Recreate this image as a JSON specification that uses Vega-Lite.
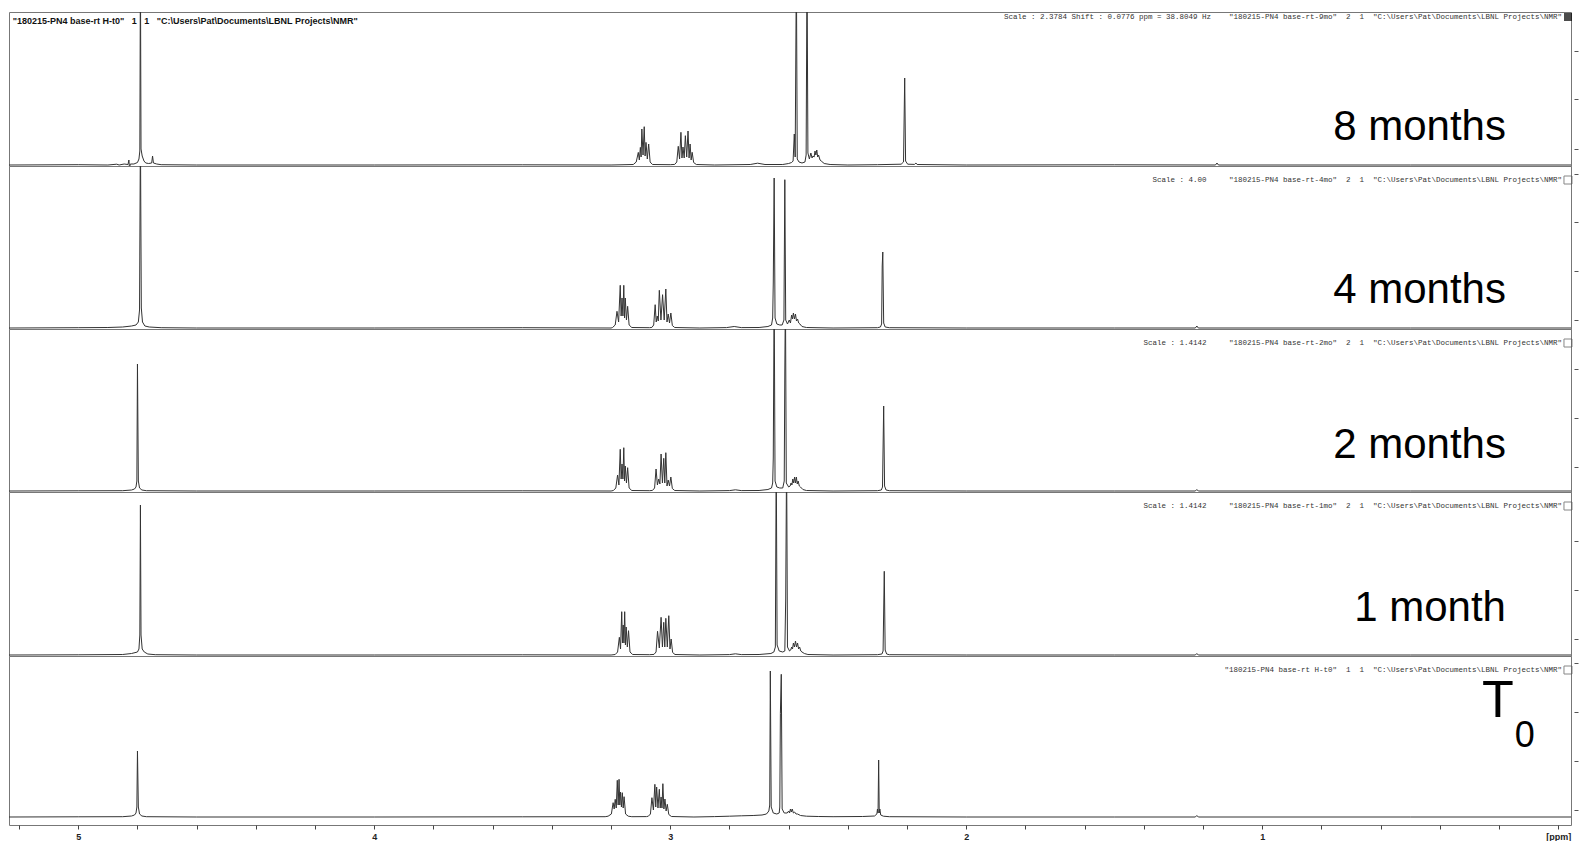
{
"$schema": "https://vega.github.io/schema/vega-lite/v6.json",
"background": "white",
"padding": {"left": 8, "top": 11, "right": 15, "bottom": 17},
"spacing": 0,
"bounds": "flush",
"config": {"view": {"stroke": "#777", "strokeWidth": 1}},
"datasets": {
"m8": [{"ppm":5.234,"intensity":0},{"ppm":5.0,"intensity":0.3},{"ppm":4.9,"intensity":0},{"ppm":4.87,"intensity":0.8},{"ppm":4.862,"intensity":0},{"ppm":4.845,"intensity":1},{"ppm":4.832,"intensity":0.5},{"ppm":4.829,"intensity":5},{"ppm":4.827,"intensity":-3},{"ppm":4.824,"intensity":1},{"ppm":4.812,"intensity":1},{"ppm":4.8,"intensity":2.5},{"ppm":4.795,"intensity":6},{"ppm":4.792,"intensity":14},{"ppm":4.79,"intensity":200},{"ppm":4.788,"intensity":16},{"ppm":4.784,"intensity":9},{"ppm":4.778,"intensity":4},{"ppm":4.772,"intensity":2},{"ppm":4.762,"intensity":1.5},{"ppm":4.752,"intensity":2},{"ppm":4.749,"intensity":9},{"ppm":4.746,"intensity":2},{"ppm":4.735,"intensity":1},{"ppm":4.72,"intensity":0.3},{"ppm":4.6,"intensity":0},{"ppm":4.0,"intensity":0},{"ppm":3.5,"intensity":0.2},{"ppm":3.2,"intensity":0},{"ppm":3.125,"intensity":0.5},{"ppm":3.115,"intensity":3},
{"ppm":3.108,"intensity":12.6},{"ppm":3.1045,"intensity":5},{"ppm":3.101,"intensity":17.6},{"ppm":3.0985,"intensity":8},{"ppm":3.096,"intensity":36},{"ppm":3.092,"intensity":10},{"ppm":3.088,"intensity":38.3},{"ppm":3.085,"intensity":9},{"ppm":3.082,"intensity":22.6},{"ppm":3.0775,"intensity":6},{"ppm":3.073,"intensity":21},{"ppm":3.068,"intensity":3},{"ppm":3.06,"intensity":0.5},
{"ppm":3.0,"intensity":0.3},{"ppm":2.985,"intensity":0.6},{"ppm":2.978,"intensity":3},
{"ppm":2.973,"intensity":18.7},{"ppm":2.9685,"intensity":6},{"ppm":2.964,"intensity":32.7},{"ppm":2.9605,"intensity":7},{"ppm":2.957,"intensity":18},{"ppm":2.953,"intensity":7},{"ppm":2.949,"intensity":29.3},{"ppm":2.9445,"intensity":8},{"ppm":2.94,"intensity":34},{"ppm":2.9365,"intensity":7},{"ppm":2.933,"intensity":21},{"ppm":2.9295,"intensity":5},{"ppm":2.926,"intensity":12.7},{"ppm":2.921,"intensity":2.5},{"ppm":2.912,"intensity":0.5},
{"ppm":2.85,"intensity":0},{"ppm":2.73,"intensity":0.5},{"ppm":2.705,"intensity":1.8},{"ppm":2.68,"intensity":0.5},{"ppm":2.62,"intensity":0.5},{"ppm":2.6,"intensity":1.5},{"ppm":2.59,"intensity":2.5},{"ppm":2.585,"intensity":4},{"ppm":2.581,"intensity":31},{"ppm":2.578,"intensity":8},{"ppm":2.574,"intensity":200},{"ppm":2.571,"intensity":6},{"ppm":2.565,"intensity":3},{"ppm":2.555,"intensity":2},{"ppm":2.545,"intensity":3},{"ppm":2.541,"intensity":10},{"ppm":2.538,"intensity":200},{"ppm":2.535,"intensity":12},{"ppm":2.53,"intensity":6},{"ppm":2.525,"intensity":12},{"ppm":2.521,"intensity":7},{"ppm":2.518,"intensity":9},{"ppm":2.514,"intensity":8},{"ppm":2.511,"intensity":14},{"ppm":2.508,"intensity":10},{"ppm":2.505,"intensity":15},{"ppm":2.502,"intensity":8},{"ppm":2.499,"intensity":10},{"ppm":2.494,"intensity":5},{"ppm":2.49,"intensity":4},{"ppm":2.48,"intensity":1.5},{"ppm":2.46,"intensity":0.5},{"ppm":2.4,"intensity":0},{"ppm":2.3,"intensity":0.3},{"ppm":2.22,"intensity":0.8},{"ppm":2.212,"intensity":3},{"ppm":2.208,"intensity":87},{"ppm":2.205,"intensity":4},{"ppm":2.198,"intensity":0.8},{"ppm":2.175,"intensity":0.6},{"ppm":2.17,"intensity":2},{"ppm":2.166,"intensity":0.5},{"ppm":2.0,"intensity":0},{"ppm":1.5,"intensity":0.2},{"ppm":1.158,"intensity":0},{"ppm":1.153,"intensity":2},{"ppm":1.148,"intensity":0},{"ppm":0.5,"intensity":0},{"ppm":-0.043,"intensity":0}],
"m4": [{"ppm":5.234,"intensity":0},{"ppm":5.0,"intensity":0.3},{"ppm":4.9,"intensity":0.5},{"ppm":4.85,"intensity":1},{"ppm":4.82,"intensity":2},{"ppm":4.805,"intensity":3},{"ppm":4.797,"intensity":6},{"ppm":4.793,"intensity":18},{"ppm":4.79,"intensity":200},{"ppm":4.787,"intensity":20},{"ppm":4.783,"intensity":6},{"ppm":4.775,"intensity":2},{"ppm":4.76,"intensity":1},{"ppm":4.72,"intensity":0.3},{"ppm":4.6,"intensity":0},{"ppm":4.0,"intensity":0},{"ppm":3.5,"intensity":0.3},{"ppm":3.2,"intensity":0},{"ppm":3.195,"intensity":0.5},{"ppm":3.186,"intensity":3},
{"ppm":3.18,"intensity":16.7},{"ppm":3.1745,"intensity":6},{"ppm":3.169,"intensity":42.7},{"ppm":3.166,"intensity":12},{"ppm":3.163,"intensity":30},{"ppm":3.16,"intensity":12},{"ppm":3.157,"intensity":42.7},{"ppm":3.1545,"intensity":10},{"ppm":3.152,"intensity":30},{"ppm":3.148,"intensity":8},{"ppm":3.144,"intensity":21.7},{"ppm":3.139,"intensity":3},{"ppm":3.13,"intensity":0.5},
{"ppm":3.07,"intensity":0.3},{"ppm":3.062,"intensity":0.6},{"ppm":3.056,"intensity":3},
{"ppm":3.051,"intensity":23.3},{"ppm":3.0475,"intensity":6},{"ppm":3.044,"intensity":12},{"ppm":3.0405,"intensity":7},{"ppm":3.037,"intensity":37.7},{"ppm":3.0315,"intensity":8},{"ppm":3.026,"intensity":33.3},{"ppm":3.0205,"intensity":8},{"ppm":3.015,"intensity":39},{"ppm":3.011,"intensity":6},{"ppm":3.007,"intensity":14},{"ppm":3.0025,"intensity":5},{"ppm":2.998,"intensity":15},{"ppm":2.993,"intensity":2.5},{"ppm":2.985,"intensity":0.5},
{"ppm":2.9,"intensity":0},{"ppm":2.81,"intensity":0.4},{"ppm":2.784,"intensity":1.5},{"ppm":2.76,"intensity":0.4},{"ppm":2.7,"intensity":0.5},{"ppm":2.67,"intensity":1.5},{"ppm":2.658,"intensity":3},{"ppm":2.654,"intensity":10},{"ppm":2.652,"intensity":45},{"ppm":2.649,"intensity":150},{"ppm":2.646,"intensity":10},{"ppm":2.64,"intensity":4},{"ppm":2.63,"intensity":3},{"ppm":2.622,"intensity":3},{"ppm":2.616,"intensity":8},{"ppm":2.613,"intensity":148.3},{"ppm":2.61,"intensity":8},{"ppm":2.604,"intensity":4},{"ppm":2.598,"intensity":8},{"ppm":2.594,"intensity":5},{"ppm":2.59,"intensity":13},{"ppm":2.587,"intensity":9},{"ppm":2.584,"intensity":15},{"ppm":2.5805,"intensity":9},{"ppm":2.577,"intensity":14},{"ppm":2.5735,"intensity":7},{"ppm":2.57,"intensity":9},{"ppm":2.566,"intensity":5},{"ppm":2.562,"intensity":4},{"ppm":2.555,"intensity":1.5},{"ppm":2.54,"intensity":0.5},{"ppm":2.45,"intensity":0},{"ppm":2.3,"intensity":0.3},{"ppm":2.29,"intensity":1},{"ppm":2.286,"intensity":4},{"ppm":2.284,"intensity":62},{"ppm":2.282,"intensity":76},{"ppm":2.279,"intensity":5},{"ppm":2.274,"intensity":1},{"ppm":2.26,"intensity":0.3},{"ppm":2.0,"intensity":0},{"ppm":1.5,"intensity":0},{"ppm":1.226,"intensity":0},{"ppm":1.221,"intensity":2},{"ppm":1.216,"intensity":0},{"ppm":0.5,"intensity":0},{"ppm":-0.043,"intensity":0}],
"m2": [{"ppm":5.234,"intensity":0},{"ppm":5.0,"intensity":0.2},{"ppm":4.85,"intensity":0.3},{"ppm":4.82,"intensity":1},{"ppm":4.81,"intensity":2},{"ppm":4.805,"intensity":4},{"ppm":4.802,"intensity":10},{"ppm":4.8,"intensity":127},{"ppm":4.797,"intensity":10},{"ppm":4.793,"intensity":3},{"ppm":4.785,"intensity":1},{"ppm":4.77,"intensity":0.3},{"ppm":4.6,"intensity":0},{"ppm":4.0,"intensity":0},{"ppm":3.5,"intensity":0.2},{"ppm":3.2,"intensity":0},{"ppm":3.192,"intensity":0.5},{"ppm":3.184,"intensity":3},
{"ppm":3.178,"intensity":16},{"ppm":3.1735,"intensity":6},{"ppm":3.169,"intensity":41.7},{"ppm":3.166,"intensity":12},{"ppm":3.163,"intensity":27},{"ppm":3.16,"intensity":12},{"ppm":3.157,"intensity":43.3},{"ppm":3.1545,"intensity":10},{"ppm":3.152,"intensity":25},{"ppm":3.148,"intensity":8},{"ppm":3.144,"intensity":23.3},{"ppm":3.139,"intensity":3},{"ppm":3.13,"intensity":0.5},
{"ppm":3.07,"intensity":0.3},{"ppm":3.06,"intensity":0.6},{"ppm":3.053,"intensity":3},
{"ppm":3.048,"intensity":22},{"ppm":3.0435,"intensity":6},{"ppm":3.039,"intensity":12},{"ppm":3.035,"intensity":7},{"ppm":3.031,"intensity":37},{"ppm":3.0265,"intensity":8},{"ppm":3.022,"intensity":32.7},{"ppm":3.0185,"intensity":8},{"ppm":3.015,"intensity":38.3},{"ppm":3.011,"intensity":5},{"ppm":3.007,"intensity":11},{"ppm":3.0025,"intensity":5},{"ppm":2.998,"intensity":14},{"ppm":2.993,"intensity":2.5},{"ppm":2.985,"intensity":0.5},
{"ppm":2.9,"intensity":0},{"ppm":2.8,"intensity":0.4},{"ppm":2.78,"intensity":1.2},{"ppm":2.76,"intensity":0.4},{"ppm":2.7,"intensity":0.5},{"ppm":2.67,"intensity":1.5},{"ppm":2.658,"intensity":3},{"ppm":2.654,"intensity":8},{"ppm":2.652,"intensity":33},{"ppm":2.649,"intensity":200},{"ppm":2.646,"intensity":10},{"ppm":2.64,"intensity":4},{"ppm":2.63,"intensity":3},{"ppm":2.62,"intensity":3},{"ppm":2.615,"intensity":10},{"ppm":2.613,"intensity":119},{"ppm":2.611,"intensity":200},{"ppm":2.608,"intensity":8},{"ppm":2.6,"intensity":4},{"ppm":2.595,"intensity":5},{"ppm":2.592,"intensity":8},{"ppm":2.589,"intensity":6},{"ppm":2.586,"intensity":12},{"ppm":2.583,"intensity":8},{"ppm":2.58,"intensity":14},{"ppm":2.577,"intensity":8},{"ppm":2.574,"intensity":14},{"ppm":2.571,"intensity":7},{"ppm":2.568,"intensity":10},{"ppm":2.564,"intensity":5},{"ppm":2.56,"intensity":4},{"ppm":2.552,"intensity":1.5},{"ppm":2.54,"intensity":0.5},{"ppm":2.45,"intensity":0},{"ppm":2.3,"intensity":0.3},{"ppm":2.287,"intensity":1},{"ppm":2.283,"intensity":4},{"ppm":2.279,"intensity":85},{"ppm":2.276,"intensity":5},{"ppm":2.271,"intensity":1},{"ppm":2.26,"intensity":0.3},{"ppm":2.0,"intensity":0},{"ppm":1.5,"intensity":0},{"ppm":1.226,"intensity":0},{"ppm":1.221,"intensity":1.5},{"ppm":1.216,"intensity":0},{"ppm":0.5,"intensity":0},{"ppm":-0.043,"intensity":0}],
"m1": [{"ppm":5.234,"intensity":0},{"ppm":5.0,"intensity":0.2},{"ppm":4.85,"intensity":0.5},{"ppm":4.82,"intensity":1.5},{"ppm":4.8,"intensity":3},{"ppm":4.795,"intensity":6},{"ppm":4.792,"intensity":20},{"ppm":4.79,"intensity":150},{"ppm":4.788,"intensity":20},{"ppm":4.784,"intensity":6},{"ppm":4.777,"intensity":3},{"ppm":4.765,"intensity":1},{"ppm":4.74,"intensity":0.3},{"ppm":4.6,"intensity":0},{"ppm":4.0,"intensity":0},{"ppm":3.5,"intensity":0.2},{"ppm":3.2,"intensity":0},{"ppm":3.186,"intensity":0.5},{"ppm":3.178,"intensity":3},
{"ppm":3.172,"intensity":17.7},{"ppm":3.168,"intensity":6},{"ppm":3.164,"intensity":43.3},{"ppm":3.1615,"intensity":12},{"ppm":3.159,"intensity":30},{"ppm":3.1565,"intensity":12},{"ppm":3.154,"intensity":43.3},{"ppm":3.1515,"intensity":10},{"ppm":3.149,"intensity":28},{"ppm":3.145,"intensity":8},{"ppm":3.141,"intensity":24.3},{"ppm":3.136,"intensity":3},{"ppm":3.127,"intensity":0.5},
{"ppm":3.07,"intensity":0.3},{"ppm":3.055,"intensity":0.6},{"ppm":3.048,"intensity":3},
{"ppm":3.043,"intensity":23.7},{"ppm":3.037,"intensity":7},{"ppm":3.031,"intensity":37.7},{"ppm":3.0265,"intensity":8},{"ppm":3.022,"intensity":32.7},{"ppm":3.0185,"intensity":8},{"ppm":3.015,"intensity":36.7},{"ppm":3.01,"intensity":8},{"ppm":3.005,"intensity":39.3},{"ppm":3.001,"intensity":6},{"ppm":2.997,"intensity":16},{"ppm":2.992,"intensity":2.5},{"ppm":2.984,"intensity":0.5},
{"ppm":2.9,"intensity":0},{"ppm":2.8,"intensity":0.4},{"ppm":2.78,"intensity":1.2},{"ppm":2.76,"intensity":0.4},{"ppm":2.7,"intensity":0.5},{"ppm":2.66,"intensity":1.5},{"ppm":2.65,"intensity":3},{"ppm":2.645,"intensity":8},{"ppm":2.642,"intensity":200},{"ppm":2.639,"intensity":10},{"ppm":2.632,"intensity":4},{"ppm":2.62,"intensity":3},{"ppm":2.613,"intensity":4},{"ppm":2.61,"intensity":56},{"ppm":2.607,"intensity":200},{"ppm":2.604,"intensity":8},{"ppm":2.597,"intensity":4},{"ppm":2.593,"intensity":5},{"ppm":2.59,"intensity":8},{"ppm":2.587,"intensity":6},{"ppm":2.584,"intensity":12},{"ppm":2.5805,"intensity":8},{"ppm":2.577,"intensity":14},{"ppm":2.5735,"intensity":8},{"ppm":2.57,"intensity":12},{"ppm":2.5665,"intensity":6},{"ppm":2.563,"intensity":8},{"ppm":2.559,"intensity":4},{"ppm":2.555,"intensity":3},{"ppm":2.547,"intensity":1.5},{"ppm":2.535,"intensity":0.5},{"ppm":2.45,"intensity":0},{"ppm":2.3,"intensity":0.3},{"ppm":2.285,"intensity":1},{"ppm":2.281,"intensity":4},{"ppm":2.277,"intensity":83.7},{"ppm":2.274,"intensity":5},{"ppm":2.269,"intensity":1},{"ppm":2.26,"intensity":0.3},{"ppm":2.0,"intensity":0},{"ppm":1.5,"intensity":0},{"ppm":1.226,"intensity":0},{"ppm":1.221,"intensity":1.5},{"ppm":1.216,"intensity":0},{"ppm":0.5,"intensity":0},{"ppm":-0.043,"intensity":0}],
"t0": [{"ppm":5.234,"intensity":0},{"ppm":5.0,"intensity":0.2},{"ppm":4.85,"intensity":0.3},{"ppm":4.82,"intensity":1},{"ppm":4.81,"intensity":2},{"ppm":4.805,"intensity":4},{"ppm":4.802,"intensity":10},{"ppm":4.8,"intensity":66},{"ppm":4.797,"intensity":10},{"ppm":4.793,"intensity":3},{"ppm":4.785,"intensity":1},{"ppm":4.77,"intensity":0.3},{"ppm":4.6,"intensity":0},{"ppm":4.0,"intensity":0},{"ppm":3.5,"intensity":0.2},{"ppm":3.22,"intensity":0.3},{"ppm":3.21,"intensity":0.8},{"ppm":3.199,"intensity":3},
{"ppm":3.193,"intensity":14.3},{"ppm":3.1895,"intensity":8},{"ppm":3.186,"intensity":17.7},{"ppm":3.1825,"intensity":9},{"ppm":3.179,"intensity":36.7},{"ppm":3.176,"intensity":12},{"ppm":3.173,"intensity":37.7},{"ppm":3.1705,"intensity":12},{"ppm":3.168,"intensity":25},{"ppm":3.165,"intensity":10},{"ppm":3.162,"intensity":24.3},{"ppm":3.159,"intensity":9},{"ppm":3.156,"intensity":20.3},{"ppm":3.151,"intensity":3},{"ppm":3.142,"intensity":0.8},{"ppm":3.13,"intensity":0.3},
{"ppm":3.08,"intensity":0.4},{"ppm":3.074,"intensity":0.8},{"ppm":3.067,"intensity":3},
{"ppm":3.062,"intensity":19.3},{"ppm":3.057,"intensity":7},{"ppm":3.052,"intensity":32.7},{"ppm":3.049,"intensity":10},{"ppm":3.046,"intensity":30},{"ppm":3.0415,"intensity":9},{"ppm":3.037,"intensity":27.7},{"ppm":3.034,"intensity":9},{"ppm":3.031,"intensity":20},{"ppm":3.028,"intensity":9},{"ppm":3.025,"intensity":33.3},{"ppm":3.0215,"intensity":8},{"ppm":3.018,"intensity":18},{"ppm":3.014,"intensity":6},{"ppm":3.01,"intensity":12.7},{"ppm":3.005,"intensity":2.5},{"ppm":2.996,"intensity":0.5},
{"ppm":2.92,"intensity":0},{"ppm":2.85,"intensity":0.4},{"ppm":2.8,"intensity":0.8},{"ppm":2.76,"intensity":1.2},{"ppm":2.72,"intensity":1.5},{"ppm":2.69,"intensity":2},{"ppm":2.675,"intensity":3},{"ppm":2.667,"intensity":6},{"ppm":2.664,"intensity":12},{"ppm":2.662,"intensity":146},{"ppm":2.659,"intensity":10},{"ppm":2.652,"intensity":4},{"ppm":2.64,"intensity":3},{"ppm":2.632,"intensity":4},{"ppm":2.63,"intensity":10},{"ppm":2.628,"intensity":103.7},{"ppm":2.625,"intensity":142.7},{"ppm":2.622,"intensity":8},{"ppm":2.615,"intensity":4},{"ppm":2.605,"intensity":4},{"ppm":2.6,"intensity":6},{"ppm":2.597,"intensity":4},{"ppm":2.594,"intensity":8},{"ppm":2.591,"intensity":5},{"ppm":2.588,"intensity":8},{"ppm":2.584,"intensity":4},{"ppm":2.58,"intensity":5},{"ppm":2.575,"intensity":3},{"ppm":2.57,"intensity":3},{"ppm":2.56,"intensity":1.5},{"ppm":2.54,"intensity":0.8},{"ppm":2.5,"intensity":0.5},{"ppm":2.45,"intensity":0.3},{"ppm":2.35,"intensity":0.5},{"ppm":2.31,"intensity":1},{"ppm":2.302,"intensity":3},{"ppm":2.3,"intensity":8},{"ppm":2.298,"intensity":4},{"ppm":2.296,"intensity":57},{"ppm":2.294,"intensity":4},{"ppm":2.292,"intensity":8},{"ppm":2.289,"intensity":2},{"ppm":2.28,"intensity":0.8},{"ppm":2.26,"intensity":0.3},{"ppm":2.0,"intensity":0},{"ppm":1.5,"intensity":0},{"ppm":1.226,"intensity":0},{"ppm":1.221,"intensity":1.5},{"ppm":1.216,"intensity":0},{"ppm":0.5,"intensity":0},{"ppm":-0.043,"intensity":0}]
},
"vconcat": [
{
"width": 1562, "height": 154,
"layer": [
{"data": {"name": "m8"}, "mark": {"type": "line", "clip": true, "color": "#333", "strokeWidth": 1},
 "encoding": {
  "x": {"field": "ppm", "type": "quantitative", "scale": {"domain": [-0.043, 5.234], "reverse": true, "nice": false, "zero": false}, "axis": null},
  "y": {"field": "intensity", "type": "quantitative", "scale": {"domain": [-1, 153], "nice": false, "zero": false}, "axis": {"orient": "right", "values": [139, 114.5, 90, 65.5, 41, 16.5], "labels": false, "domain": false, "grid": false, "ticks": true, "tickSize": 4, "tickColor": "#555", "offset": 3, "title": null}}}},
{"data": {"values": [{"label": "8 months"}]}, "mark": {"type": "text", "align": "right", "baseline": "alphabetic", "font": "Liberation Sans", "fontSize": 42, "color": "#000"},
 "encoding": {"x": {"datum": 0.1767, "type": "quantitative"}, "y": {"datum": 25, "type": "quantitative"}, "text": {"field": "label"}}},
{"data": {"values": [{"label": "Scale : 2.3784 Shift : 0.0776 ppm = 38.8049 Hz \u00a0\u00a0\u00a0\"180215-PN4 base-rt-9mo\" \u00a02 \u00a01 \u00a0\"C:\\Users\\Pat\\Documents\\LBNL Projects\\NMR\""}]}, "mark": {"type": "text", "align": "right", "baseline": "middle", "font": "Liberation Mono", "fontSize": 7.5, "color": "#333"},
 "encoding": {"x": {"datum": -0.0125, "type": "quantitative"}, "y": {"datum": 148, "type": "quantitative"}, "text": {"field": "label"}}},
{"data": {"values": [{"label": "\"180215-PN4 base-rt H-t0\" \u00a0\u00a01 \u00a0\u00a01 \u00a0\u00a0\"C:\\Users\\Pat\\Documents\\LBNL Projects\\NMR\""}]}, "mark": {"type": "text", "align": "left", "baseline": "middle", "font": "Liberation Sans", "fontWeight": "bold", "fontSize": 9, "color": "#111"},
 "encoding": {"x": {"datum": 5.2216, "type": "quantitative"}, "y": {"datum": 144, "type": "quantitative"}, "text": {"field": "label"}}},
{"data": {"values": [{"label": "box"}]}, "mark": {"type": "square", "size": 64, "filled": true, "color": "#000"},
 "encoding": {"x": {"datum": -0.0328, "type": "quantitative"}, "y": {"datum": 148, "type": "quantitative"}}}
]},
{
"width": 1562, "height": 163,
"layer": [
{"data": {"name": "m4"}, "mark": {"type": "line", "clip": true, "color": "#333", "strokeWidth": 1},
 "encoding": {
  "x": {"field": "ppm", "type": "quantitative", "scale": {"domain": [-0.043, 5.234], "reverse": true, "nice": false, "zero": false}, "axis": null},
  "y": {"field": "intensity", "type": "quantitative", "scale": {"domain": [-1, 162], "nice": false, "zero": false}, "axis": {"orient": "right", "values": [154, 130, 106, 81.5, 57, 32.5, 8], "labels": false, "domain": false, "grid": false, "ticks": true, "tickSize": 4, "tickColor": "#555", "offset": 3, "title": null}}}},
{"data": {"values": [{"label": "4 months"}]}, "mark": {"type": "text", "align": "right", "baseline": "alphabetic", "font": "Liberation Sans", "fontSize": 42, "color": "#000"},
 "encoding": {"x": {"datum": 0.1767, "type": "quantitative"}, "y": {"datum": 25, "type": "quantitative"}, "text": {"field": "label"}}},
{"data": {"values": [{"label": "Scale : 4.00 \u00a0\u00a0\u00a0\u00a0\"180215-PN4 base-rt-4mo\" \u00a02 \u00a01 \u00a0\"C:\\Users\\Pat\\Documents\\LBNL Projects\\NMR\""}]}, "mark": {"type": "text", "align": "right", "baseline": "middle", "font": "Liberation Mono", "fontSize": 7.5, "color": "#333"},
 "encoding": {"x": {"datum": -0.0125, "type": "quantitative"}, "y": {"datum": 148, "type": "quantitative"}, "text": {"field": "label"}}},
{"data": {"values": [{"label": "box"}]}, "mark": {"type": "square", "size": 64, "filled": false, "color": "#555", "strokeWidth": 1},
 "encoding": {"x": {"datum": -0.0328, "type": "quantitative"}, "y": {"datum": 148, "type": "quantitative"}}}
]},
{
"width": 1562, "height": 163,
"layer": [
{"data": {"name": "m2"}, "mark": {"type": "line", "clip": true, "color": "#333", "strokeWidth": 1},
 "encoding": {
  "x": {"field": "ppm", "type": "quantitative", "scale": {"domain": [-0.043, 5.234], "reverse": true, "nice": false, "zero": false}, "axis": null},
  "y": {"field": "intensity", "type": "quantitative", "scale": {"domain": [-1, 162], "nice": false, "zero": false}, "axis": {"orient": "right", "values": [146.5, 122, 97.5, 73, 48.5, 24], "labels": false, "domain": false, "grid": false, "ticks": true, "tickSize": 4, "tickColor": "#555", "offset": 3, "title": null}}}},
{"data": {"values": [{"label": "2 months"}]}, "mark": {"type": "text", "align": "right", "baseline": "alphabetic", "font": "Liberation Sans", "fontSize": 42, "color": "#000"},
 "encoding": {"x": {"datum": 0.1767, "type": "quantitative"}, "y": {"datum": 33, "type": "quantitative"}, "text": {"field": "label"}}},
{"data": {"values": [{"label": "Scale : 1.4142 \u00a0\u00a0\u00a0\u00a0\"180215-PN4 base-rt-2mo\" \u00a02 \u00a01 \u00a0\"C:\\Users\\Pat\\Documents\\LBNL Projects\\NMR\""}]}, "mark": {"type": "text", "align": "right", "baseline": "middle", "font": "Liberation Mono", "fontSize": 7.5, "color": "#333"},
 "encoding": {"x": {"datum": -0.0125, "type": "quantitative"}, "y": {"datum": 148, "type": "quantitative"}, "text": {"field": "label"}}},
{"data": {"values": [{"label": "box"}]}, "mark": {"type": "square", "size": 64, "filled": false, "color": "#555", "strokeWidth": 1},
 "encoding": {"x": {"datum": -0.0328, "type": "quantitative"}, "y": {"datum": 148, "type": "quantitative"}}}
]},
{
"width": 1562, "height": 164,
"layer": [
{"data": {"name": "m1"}, "mark": {"type": "line", "clip": true, "color": "#333", "strokeWidth": 1},
 "encoding": {
  "x": {"field": "ppm", "type": "quantitative", "scale": {"domain": [-0.043, 5.234], "reverse": true, "nice": false, "zero": false}, "axis": null},
  "y": {"field": "intensity", "type": "quantitative", "scale": {"domain": [-1, 163], "nice": false, "zero": false}, "axis": {"orient": "right", "values": [139, 114.5, 90, 65.5, 41, 16.5], "labels": false, "domain": false, "grid": false, "ticks": true, "tickSize": 4, "tickColor": "#555", "offset": 3, "title": null}}}},
{"data": {"values": [{"label": "1 month"}]}, "mark": {"type": "text", "align": "right", "baseline": "alphabetic", "font": "Liberation Sans", "fontSize": 42, "color": "#000"},
 "encoding": {"x": {"datum": 0.1767, "type": "quantitative"}, "y": {"datum": 34, "type": "quantitative"}, "text": {"field": "label"}}},
{"data": {"values": [{"label": "Scale : 1.4142 \u00a0\u00a0\u00a0\u00a0\"180215-PN4 base-rt-1mo\" \u00a02 \u00a01 \u00a0\"C:\\Users\\Pat\\Documents\\LBNL Projects\\NMR\""}]}, "mark": {"type": "text", "align": "right", "baseline": "middle", "font": "Liberation Mono", "fontSize": 7.5, "color": "#333"},
 "encoding": {"x": {"datum": -0.0125, "type": "quantitative"}, "y": {"datum": 149, "type": "quantitative"}, "text": {"field": "label"}}},
{"data": {"values": [{"label": "box"}]}, "mark": {"type": "square", "size": 64, "filled": false, "color": "#555", "strokeWidth": 1},
 "encoding": {"x": {"datum": -0.0328, "type": "quantitative"}, "y": {"datum": 149, "type": "quantitative"}}}
]},
{
"width": 1562, "height": 169,
"layer": [
{"data": {"name": "t0"}, "mark": {"type": "line", "clip": true, "color": "#333", "strokeWidth": 1},
 "encoding": {
  "x": {"field": "ppm", "type": "quantitative", "scale": {"domain": [-0.043, 5.234], "reverse": true, "nice": false, "zero": false},
        "axis": {"orient": "bottom", "values": [0,0.2,0.4,0.6,0.8,1,1.2,1.4,1.6,1.8,2,2.2,2.4,2.6,2.8,3,3.2,3.4,3.6,3.8,4,4.2,4.4,4.6,4.8,5,5.2],
                 "labelExpr": "datum.value == 0 ? '[ppm]' : (abs(datum.value - round(datum.value)) < 0.001 ? format(datum.value, 'd') : '')",
                 "labelFont": "Liberation Sans", "labelFontWeight": "bold", "labelFontSize": 9, "labelColor": "#222", "labelPadding": 3, "labelOverlap": false, "labelFlush": false,
                 "tickSize": 4, "tickColor": "#444", "domain": false, "grid": false, "title": null}},
  "y": {"field": "intensity", "type": "quantitative", "scale": {"domain": [-8, 161], "nice": false, "zero": false}, "axis": {"orient": "right", "values": [154, 129.5, 105, 80.5, 56, 31.5, 7], "labels": false, "domain": false, "grid": false, "ticks": true, "tickSize": 4, "tickColor": "#555", "offset": 3, "title": null}}}},
{"data": {"values": [{"label": "T"}]}, "mark": {"type": "text", "align": "right", "baseline": "alphabetic", "font": "Liberation Sans", "fontSize": 52, "color": "#000"},
 "encoding": {"x": {"datum": 0.15, "type": "quantitative"}, "y": {"datum": 100, "type": "quantitative"}, "text": {"field": "label"}}},
{"data": {"values": [{"label": "0"}]}, "mark": {"type": "text", "align": "left", "baseline": "alphabetic", "font": "Liberation Sans", "fontSize": 36, "color": "#000"},
 "encoding": {"x": {"datum": 0.147, "type": "quantitative"}, "y": {"datum": 70, "type": "quantitative"}, "text": {"field": "label"}}},
{"data": {"values": [{"label": "\"180215-PN4 base-rt H-t0\" \u00a01 \u00a01 \u00a0\"C:\\Users\\Pat\\Documents\\LBNL Projects\\NMR\""}]}, "mark": {"type": "text", "align": "right", "baseline": "middle", "font": "Liberation Mono", "fontSize": 7.5, "color": "#333"},
 "encoding": {"x": {"datum": -0.0125, "type": "quantitative"}, "y": {"datum": 147, "type": "quantitative"}, "text": {"field": "label"}}},
{"data": {"values": [{"label": "box"}]}, "mark": {"type": "square", "size": 64, "filled": false, "color": "#555", "strokeWidth": 1},
 "encoding": {"x": {"datum": -0.0328, "type": "quantitative"}, "y": {"datum": 147, "type": "quantitative"}}}
]}
]
}
